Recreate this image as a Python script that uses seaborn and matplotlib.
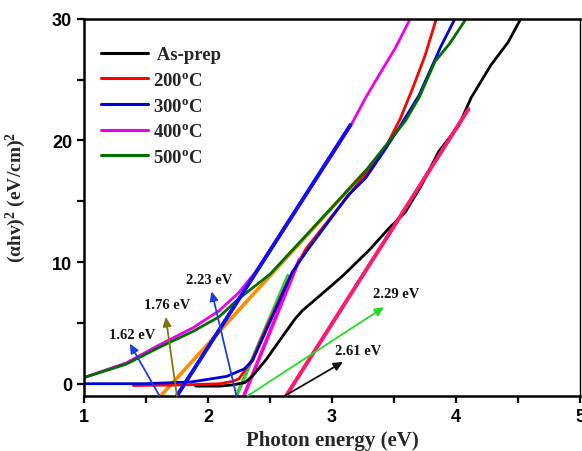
import numpy as np
import pandas as pd
import matplotlib
matplotlib.use("Agg")
import matplotlib.pyplot as plt
import seaborn as sns

# Tauc curves (photon energy in eV, (alpha h nu)^2)
asprep_x = [1.9, 2.1, 2.2, 2.3, 2.36, 2.47, 2.56, 2.63, 2.7, 2.76, 2.84, 3.0, 3.1, 3.2, 3.31, 3.46, 3.59, 3.72, 3.86, 4.02, 4.12, 4.28, 4.42, 4.52]
asprep_y = [-0.2, -0.2, -0.1, 0.1, 0.65, 2.0, 3.3, 4.3, 5.3, 6.0, 6.7, 8.1, 9.0, 10.0, 11.1, 12.8, 14.1, 16.3, 19.1, 21.2, 23.5, 26.2, 28.1, 30.0]

t200_x = [1.4, 1.8, 2.1, 2.2, 2.25, 2.36, 2.47, 2.63, 2.79, 3.0, 3.15, 3.3, 3.45, 3.55, 3.65, 3.75, 3.84]
t200_y = [-0.15, -0.1, 0.0, 0.2, 0.4, 2.0, 4.6, 8.1, 11.1, 13.8, 15.7, 17.6, 19.8, 21.8, 24.3, 27.0, 30.0]

t300_x = [1.0, 1.5, 1.87, 2.15, 2.29, 2.36, 2.47, 2.55, 2.68, 2.81, 3.13, 3.27, 3.43, 3.55, 3.70, 3.88, 3.99]
t300_y = [0.0, 0.0, 0.15, 0.6, 1.2, 1.9, 4.4, 6.2, 9.2, 11.1, 15.5, 16.9, 19.3, 21.2, 23.7, 27.8, 30.0]

t400_x = [1.0, 1.34, 1.61, 1.88, 2.09, 2.25, 2.4, 2.6, 2.8, 3.0, 3.15, 3.27, 3.38, 3.51, 3.63]
t400_y = [0.5, 1.7, 3.2, 4.6, 6.0, 7.5, 9.4, 12.6, 15.7, 18.8, 21.2, 23.5, 25.4, 27.6, 30.0]

t500_x = [1.0, 1.34, 1.61, 1.88, 2.09, 2.25, 2.5, 2.8, 3.0, 3.27, 3.45, 3.59, 3.7, 3.83, 3.95, 4.08]
t500_y = [0.5, 1.6, 3.0, 4.3, 5.5, 7.0, 9.0, 12.3, 14.5, 17.5, 19.8, 21.6, 23.5, 26.5, 28.0, 30.0]

series_names = ["As-prep", "200$^{\\rm o}$C", "300$^{\\rm o}$C", "400$^{\\rm o}$C", "500$^{\\rm o}$C"]
series_colors = ["#000000", "#ff0000", "#0000dd", "#ee00ee", "#006e00"]

# linear fits (start at the bottom of the axis, end point on the curve)
fit_x0 = [1.62, 1.75, 2.23, 2.29, 2.63]
fit_y0 = [-1.0, -1.0, -1.0, -1.0, -1.0]
fit_x1 = [3.27, 3.15, 2.65, 2.74, 4.10]
fit_y1 = [17.5, 21.3, 9.0, 10.3, 22.6]
fit_colors = ["#ff8c00", "#1010ee", "#33cc33", "#ff00cc", "#ff1a70"]

# band gap labels and where their arrows point
gap_labels = ["1.62 eV", "1.76 eV", "2.23 eV", "2.29 eV", "2.61 eV"]
arrow_x0 = [1.61, 1.75, 2.23, 2.32, 2.62]
arrow_x1 = [1.37, 1.66, 2.03, 3.42, 3.09]
arrow_y1 = [3.3, 5.5, 7.6, 6.3, 1.8]
label_x = [1.39, 1.67, 2.01, 3.52, 3.21]
label_y = [3.5, 6.0, 8.0, 6.9, 2.2]
arrow_colors = ["#1f3fdd", "#7a7a10", "#1f3fdd", "#22dd22", "#111111"]

sns.set_style("ticks")
plt.rcParams["font.family"] = ["Liberation Serif", "DejaVu Serif"]
plt.rcParams["mathtext.fontset"] = "custom"
plt.rcParams["mathtext.rm"] = "Liberation Serif:bold"
plt.rcParams["mathtext.bf"] = "Liberation Serif:bold"
plt.rcParams["mathtext.it"] = "Liberation Serif:italic:bold"

frames = []
for name, xs, ys in zip(series_names,
                        [asprep_x, t200_x, t300_x, t400_x, t500_x],
                        [asprep_y, t200_y, t300_y, t400_y, t500_y]):
    frames.append(pd.DataFrame({"energy": xs, "tauc": ys, "sample": name}))
df = pd.concat(frames, ignore_index=True)

fig = plt.figure(figsize=(5.82, 4.52), dpi=100)
ax = fig.add_axes([0.144, 0.122, 0.853, 0.834])

# fits drawn underneath the data
for x0, y0, x1, y1, c in zip(fit_x0, fit_y0, fit_x1, fit_y1, fit_colors):
    ax.plot([x0, x1], [y0, y1], color=c, lw=2.6, solid_capstyle="butt", zorder=1)

sns.lineplot(data=df, x="energy", y="tauc", hue="sample", palette=series_colors,
             hue_order=series_names, sort=False, estimator=None, lw=2.0, ax=ax, zorder=2)

# redraw fits that sit on top of curves in the reference
for i in [1, 4]:
    ax.plot([fit_x0[i], fit_x1[i]], [fit_y0[i], fit_y1[i]], color=fit_colors[i], lw=2.6, zorder=3)

for lab, x0, x1, y1, lx, ly, c in zip(gap_labels, arrow_x0, arrow_x1, arrow_y1,
                                      label_x, label_y, arrow_colors):
    ax.annotate("", xy=(x1, y1), xytext=(x0, -1.0),
                arrowprops=dict(arrowstyle="-|>,head_length=0.55,head_width=0.25",
                                color=c, lw=1.3, shrinkA=0, shrinkB=0), zorder=4)
    ax.text(lx, ly, lab, ha="center", va="bottom", fontsize=10.5,
            fontweight="bold", color="#111111", zorder=5)

ax.set_xlim(1, 5)
ax.set_ylim(-1, 30)
ax.set_xticks([1, 2, 3, 4, 5])
ax.set_xticks([1.5, 2.5, 3.5, 4.5], minor=True)
ax.set_yticks([0, 10, 20, 30])
ax.set_yticks([5, 15, 25], minor=True)
ax.tick_params(which="both", direction="out", length=5, width=1.6, colors="black")
for lbl in ax.get_xticklabels() + ax.get_yticklabels():
    lbl.set_family("Liberation Sans")
    lbl.set_fontweight("bold")
    lbl.set_fontsize(13)
for side in ["left", "bottom", "top"]:
    ax.spines[side].set_linewidth(1.8)
ax.spines["right"].set_linewidth(1.0)
for s in ax.spines.values():
    s.set_color("black")

ax.set_xlabel("Photon energy (eV)", fontsize=15, fontweight="bold", labelpad=4)
ax.set_ylabel("(\u03b1hv)$^{\\rm 2}$ (eV/cm)$^{\\rm 2}$", fontsize=14,
              fontweight="bold")
ax.yaxis.set_label_coords(-0.112, 0.53)

handles, labels = ax.get_legend_handles_labels()
for h in handles:
    h.set_linewidth(2.2)
labels = [" " + labels[0]] + labels[1:]
ax.legend(handles, labels, loc="upper left", bbox_to_anchor=(0.0, 0.972),
          frameon=False, handlelength=2.5, handletextpad=0.3, labelspacing=0.45,
          prop={"family": "Liberation Serif", "weight": "bold", "size": 13.5})

fig.savefig("out.png", dpi=100)
